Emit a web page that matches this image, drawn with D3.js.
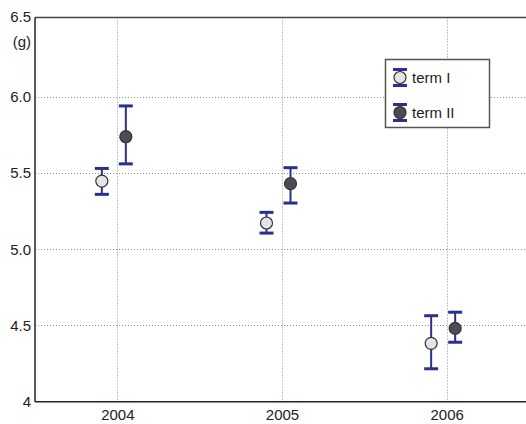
<!DOCTYPE html>
<html>
<head>
<meta charset="utf-8">
<script src="https://cdn.jsdelivr.net/npm/d3@7"></script>
<style>
  html, body { margin: 0; padding: 0; background: #fff; }
  svg { display: block; font-family: "Liberation Sans", Arial, sans-serif; }
</style>
</head>
<body>
<svg id="chart" width="526" height="424"></svg>
<script>
// Yearly means (g) with lower / upper error limits, per term
const years = [2004, 2005, 2006];
const termIMean  = [5.447, 5.172, 4.383];
const termILow   = [5.360, 5.106, 4.216];
const termIHigh  = [5.530, 5.242, 4.564];
const termIIMean = [5.738, 5.430, 4.481];
const termIILow  = [5.560, 5.303, 4.390];
const termIIHigh = [5.940, 5.535, 4.587];

const seriesNames = ["term I", "term II"];
const yTickValues = [4, 4.5, 5, 5.5, 6];
const yTickLabels = ["4", "4.5", "5.0", "5.5", "6.0"];

const svg = d3.select("#chart");
const W = 526, H = 424;
const plotLeft = 35, plotTop = 17.5, plotBottom = 401.7;
const fontSize = 15;

const x = d3.scaleLinear().domain([2003.5, 2006.5]).range([plotLeft, 529]);
const y = d3.scaleLinear().domain([4, 6.52]).range([plotBottom, plotTop]);

// dotted grid
const grid = svg.append("g").attr("stroke", "#8c8c8c").attr("stroke-width", 1)
  .attr("stroke-dasharray", "1,2");
grid.selectAll("line.v").data(years).join("line").attr("class", "v")
  .attr("x1", d => Math.round(x(d)) + 0.5).attr("x2", d => Math.round(x(d)) + 0.5)
  .attr("y1", plotTop).attr("y2", plotBottom);
grid.selectAll("line.h").data(yTickValues.slice(1)).join("line").attr("class", "h")
  .attr("x1", plotLeft).attr("x2", W)
  .attr("y1", d => Math.round(y(d)) + 0.5).attr("y2", d => Math.round(y(d)) + 0.5);

// frame
svg.append("line").attr("x1", plotLeft).attr("x2", W).attr("y1", plotTop).attr("y2", plotTop)
  .attr("stroke", "#444").attr("stroke-width", 1.5);
svg.append("line").attr("x1", plotLeft).attr("x2", plotLeft).attr("y1", plotTop).attr("y2", plotBottom)
  .attr("stroke", "#222").attr("stroke-width", 1.5);
svg.append("line").attr("x1", plotLeft).attr("x2", W).attr("y1", plotBottom).attr("y2", plotBottom)
  .attr("stroke", "#222").attr("stroke-width", 1.5);

// y tick labels
const yAxis = d3.axisLeft(y).tickValues(yTickValues)
  .tickFormat((d, i) => yTickLabels[i]).tickSize(0).tickPadding(4);
const gy = svg.append("g").attr("transform", `translate(${plotLeft},0)`).call(yAxis);
gy.select(".domain").remove();
gy.selectAll("text").attr("font-size", fontSize).attr("fill", "#222")
  .attr("font-family", "Liberation Sans, Arial, sans-serif");
svg.append("text").attr("x", plotLeft - 4).attr("y", 22).attr("text-anchor", "end")
  .attr("font-size", fontSize).attr("fill", "#222").text("6.5");
svg.append("text").attr("x", plotLeft - 4).attr("y", 47).attr("text-anchor", "end")
  .attr("font-size", fontSize).attr("fill", "#222").text("(g)");

// x tick labels
const xAxis = d3.axisBottom(x).tickValues(years).tickFormat(d3.format("d"))
  .tickSize(0).tickPadding(8);
const gx = svg.append("g").attr("transform", `translate(0,${plotBottom})`).call(xAxis);
gx.select(".domain").remove();
gx.selectAll("text").attr("font-size", fontSize).attr("fill", "#222")
  .attr("font-family", "Liberation Sans, Arial, sans-serif");

// error bars and markers
const barColor = "#2b2f8f";
const series = [
  { name: seriesNames[0], mean: termIMean, low: termILow, high: termIHigh, dx: -15.5, fill: "#e4e4e6" },
  { name: seriesNames[1], mean: termIIMean, low: termIILow, high: termIIHigh, dx: 8.5, fill: "#4d4d4f" }
];
const capHalf = 7;
series.forEach(s => {
  const g = svg.append("g");
  years.forEach((yr, i) => {
    const cx = x(yr) + s.dx;
    g.append("line").attr("x1", cx).attr("x2", cx)
      .attr("y1", y(s.low[i])).attr("y2", y(s.high[i]))
      .attr("stroke", barColor).attr("stroke-width", 2);
    [s.low[i], s.high[i]].forEach(v => {
      g.append("line").attr("x1", cx - capHalf).attr("x2", cx + capHalf)
        .attr("y1", y(v)).attr("y2", y(v))
        .attr("stroke", barColor).attr("stroke-width", 3);
    });
    g.append("circle").attr("cx", cx).attr("cy", y(s.mean[i])).attr("r", 6)
      .attr("fill", s.fill).attr("stroke", "#333").attr("stroke-width", 1.2);
  });
});

// legend
const lg = svg.append("g");
lg.append("rect").attr("x", 385.5).attr("y", 59.5).attr("width", 104).attr("height", 68)
  .attr("fill", "#fff").attr("stroke", "#555").attr("stroke-width", 1.5);
series.forEach((s, i) => {
  const cy = 77.5 + i * 35;
  const cx = 400;
  lg.append("line").attr("x1", cx).attr("x2", cx).attr("y1", cy - 8).attr("y2", cy + 8)
    .attr("stroke", barColor).attr("stroke-width", 2);
  [cy - 8, cy + 8].forEach(v => lg.append("line")
    .attr("x1", cx - 7).attr("x2", cx + 7).attr("y1", v).attr("y2", v)
    .attr("stroke", barColor).attr("stroke-width", 3));
  lg.append("circle").attr("cx", cx).attr("cy", cy).attr("r", 6)
    .attr("fill", s.fill).attr("stroke", "#333").attr("stroke-width", 1.2);
  lg.append("text").attr("x", 412).attr("y", cy + 5).attr("font-size", fontSize)
    .attr("fill", "#222").text(s.name);
});
</script>
</body>
</html>
